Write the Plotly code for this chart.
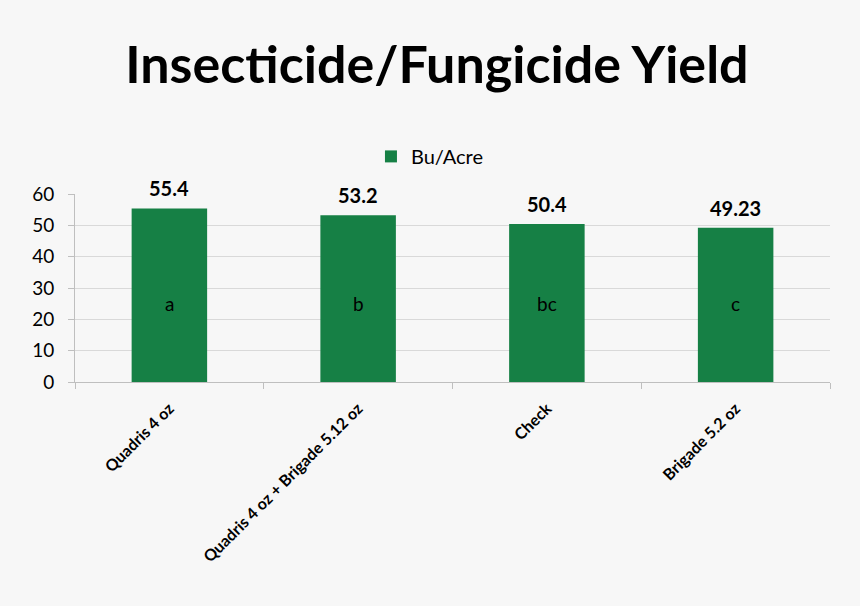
import plotly.graph_objects as go

categories = ["Quadris 4 oz", "Quadris 4 oz + Brigade 5.12 oz", "Check", "Brigade 5.2 oz"]
yield_bu_acre = [55.4, 53.2, 50.4, 49.23]
value_labels = ["55.4", "53.2", "50.4", "49.23"]
letters = ["a", "b", "bc", "c"]
y_ticks = [0, 10, 20, 30, 40, 50, 60]

green = "#168045"
bg = "#f7f7f7"
font_family = "Lato, 'Open Sans', sans-serif"

fig = go.Figure()

fig.add_trace(
    go.Bar(
        name="Bu/Acre",
        x=categories,
        y=yield_bu_acre,
        marker=dict(color=green, line=dict(width=0)),
        width=0.4,
        hoverinfo="x+y",
    )
)

annotations = []
# value labels above bars
for cat, val, lab in zip(categories, yield_bu_acre, value_labels):
    annotations.append(
        dict(
            x=cat, y=val, xref="x", yref="y",
            text=f"<b>{lab}</b>", showarrow=False,
            yanchor="bottom", yshift=6,
            font=dict(size=20, color="#000000", family=font_family),
        )
    )
# significance letters inside bars
for cat, let in zip(categories, letters):
    annotations.append(
        dict(
            x=cat, y=25, xref="x", yref="y",
            text=let, showarrow=False,
            font=dict(size=19, color="#000000", family=font_family),
        )
    )

fig.update_layout(
    width=860,
    height=606,
    paper_bgcolor=bg,
    plot_bgcolor=bg,
    margin=dict(l=75, r=30, t=194, b=224),
    font=dict(family=font_family, color="#000000"),
    title=dict(
        text="<b>Insecticide/Fungicide Yield</b>",
        x=0.508, xanchor="center",
        y=0.893, yanchor="middle",
        font=dict(size=52, family=font_family, color="#000000"),
    ),
    showlegend=True,
    legend=dict(
        orientation="h",
        x=0.392, xanchor="left",
        y=1.2, yanchor="middle",
        font=dict(size=20, family=font_family),
        bgcolor="rgba(0,0,0,0)",
        itemsizing="constant",
    ),
    annotations=annotations,
    bargap=0.6,
)

fig.update_yaxes(
    range=[0, 60],
    tickvals=y_ticks,
    showgrid=True,
    gridcolor="#d9d9d9",
    gridwidth=1,
    showline=True,
    linecolor="#bfbfbf",
    ticks="outside",
    ticklen=6,
    tickcolor="#bfbfbf",
    ticklabelstandoff=10,
    tickfont=dict(size=19, family=font_family),
    zeroline=False,
)

fig.update_xaxes(
    showline=True,
    linecolor="#bfbfbf",
    ticks="outside",
    tickson="boundaries",
    ticklen=6,
    tickcolor="#bfbfbf",
    tickangle=-45,
    ticklabelstandoff=10,
    tickfont=dict(size=16, family=font_family),
    tickprefix="<b>",
    ticksuffix="</b>",
    mirror=False,
)

fig.write_html(
    "out.html",
    config={"displayModeBar": False},
    post_script="document.body.style.margin='0';document.body.style.background='#f7f7f7';",
)
